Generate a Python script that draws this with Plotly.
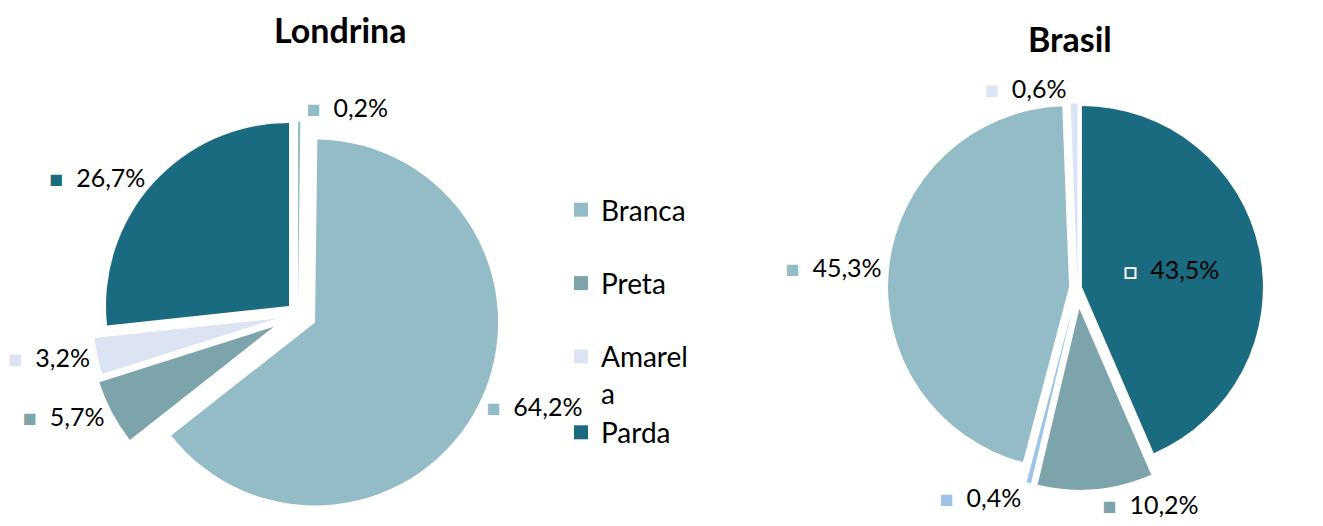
import plotly.graph_objects as go

# ---------------- data ----------------
londrina_labels = ["Indígena", "Branca", "Preta", "Amarela", "Parda"]
londrina_values = [0.2, 64.2, 5.7, 3.2, 26.7]

brasil_labels = ["Parda", "Preta", "Indígena", "Branca", "Amarela"]
brasil_values = [43.5, 10.2, 0.4, 45.3, 0.6]

legend_labels = ["Branca", "Preta", "Amarela", "Parda"]

# ---------------- styles ----------------
colors = {
    "Branca": "#93BCC6",
    "Preta": "#7CA4AA",
    "Amarela": "#DCE3F3",
    "Parda": "#1A6A80",
}
londrina_colors = {**colors, "Indígena": "#93BCC6"}
brasil_colors = {**colors, "Indígena": "#9DC3E6"}

londrina_pull = [0.05, 0.104, 0.15, 0.12, 0.066]
brasil_pull = [0.025, 0.115, 0.11, 0.047, 0.02]
brasil_pos = ["inside", "outside", "outside", "outside", "outside"]

# page body has an 8px margin; figure sized to fit the 1323x526 window
W, H = 1315, 518
FONT = "Lato, Carlito, Calibri, sans-serif"
LABEL_SIZE = 25
SQ = "font-size:23px"


def fmt(v):
    return f"{v:.1f}".replace(".", ",") + "%"


def label_texts(labels, values, cmap, special=None):
    out = []
    for lab, v in zip(labels, values):
        if special and lab == special:
            sq = f"<span style='color:white;{SQ};font-weight:bold'>□</span>"
        else:
            sq = f"<span style='color:{cmap[lab]};{SQ}'>■</span>"
        out.append(sq + "\u00a0\u00a0" + fmt(v))
    return out


def domain(cx, cy, r, pull):
    half = r * (1 + max(pull))
    return dict(
        x=[(cx - half) / W, (cx + half) / W],
        y=[1 - (cy + half) / H, 1 - (cy - half) / H],
    )


fig = go.Figure()

fig.add_trace(go.Pie(
    labels=londrina_labels,
    values=londrina_values,
    sort=False,
    direction="clockwise",
    rotation=0,
    pull=londrina_pull,
    marker=dict(colors=[londrina_colors[l] for l in londrina_labels], line=dict(width=0)),
    text=label_texts(londrina_labels, londrina_values, londrina_colors),
    textinfo="text",
    textposition="outside",
    textfont=dict(family=FONT, size=LABEL_SIZE, color="#000000"),
    domain=domain(290, 306, 183, londrina_pull),
    showlegend=False,
    hoverinfo="label+percent",
))

fig.add_trace(go.Pie(
    labels=brasil_labels,
    values=brasil_values,
    sort=False,
    direction="clockwise",
    rotation=0,
    pull=brasil_pull,
    marker=dict(colors=[brasil_colors[l] for l in brasil_labels], line=dict(width=0)),
    text=label_texts(brasil_labels, brasil_values, brasil_colors, special="Parda"),
    textinfo="text",
    textposition=brasil_pos,
    insidetextorientation="horizontal",
    textfont=dict(family=FONT, size=LABEL_SIZE, color="#000000"),
    insidetextfont=dict(family=FONT, size=LABEL_SIZE, color="#000000"),
    domain=domain(1069.5, 280, 181, brasil_pull),
    showlegend=False,
    hoverinfo="label+percent",
))

# legend-only entries
groups = {"Branca": "g1", "Preta": "g2", "Amarela": "g3", "Parda": "g3"}
names = {"Amarela": "Amarel<br>a"}
for lab in legend_labels:
    fig.add_trace(go.Scatter(
        x=[None], y=[None], mode="markers",
        marker=dict(symbol="square", size=14, color=colors[lab]),
        name=names.get(lab, lab),
        legendgroup=groups[lab],
        showlegend=True,
    ))

fig.update_layout(
    width=W, height=H,
    margin=dict(l=0, r=0, t=0, b=0, pad=0, autoexpand=False),
    paper_bgcolor="white",
    plot_bgcolor="white",
    font=dict(family=FONT, color="#000000"),
    xaxis=dict(visible=False),
    yaxis=dict(visible=False),
    legend=dict(
        x=553 / W, y=1 - 177 / H, xanchor="left", yanchor="top",
        bgcolor="rgba(0,0,0,0)",
        font=dict(family=FONT, size=28, color="#000000"),
        tracegroupgap=34,
        valign="top",
        itemwidth=30,
    ),
    annotations=[
        dict(text="<b>Londrina</b>", x=332 / W, y=1 - 21 / H, xref="paper", yref="paper",
             xanchor="center", yanchor="middle",
             showarrow=False, font=dict(family=FONT, size=34, color="#000000")),
        dict(text="<b>Brasil</b>", x=1062 / W, y=1 - 31 / H, xref="paper", yref="paper",
             xanchor="center", yanchor="middle",
             showarrow=False, font=dict(family=FONT, size=34, color="#000000")),
    ],
)

fig.write_html("out.html")
